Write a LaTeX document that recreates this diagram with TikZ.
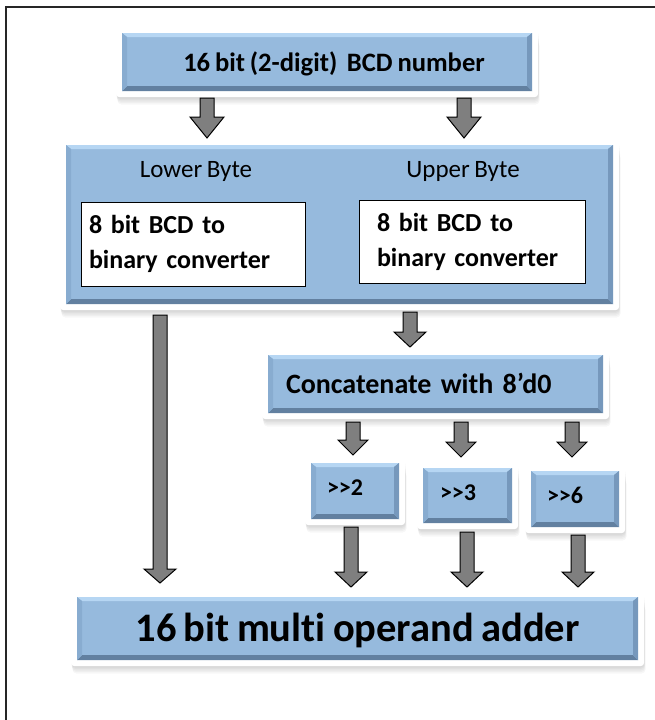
\documentclass[tikz,border=0pt]{standalone}
\usepackage{fontspec}
\setmainfont{Carlito}[Ligatures={NoCommon}, WordSpace=0.8]
\usetikzlibrary{calc,backgrounds}
\definecolor{face}{RGB}{150,186,221}
\definecolor{bevtop}{RGB}{182,214,243}
\definecolor{bevbot}{RGB}{98,128,160}
\definecolor{bevleft}{RGB}{136,172,208}
\definecolor{bevright}{RGB}{118,152,188}
\definecolor{arrowgray}{RGB}{127,127,127}
\tikzset{
  bevelbox/.style={fill=face, inner sep=0pt, outer sep=0pt, font=\bfseries,
    path picture={
      \coordinate (pnw) at (path picture bounding box.north west);
      \coordinate (pne) at (path picture bounding box.north east);
      \coordinate (psw) at (path picture bounding box.south west);
      \coordinate (pse) at (path picture bounding box.south east);
      \fill[bevtop] (pnw) -- (pne) -- ([shift={(-5pt,-4pt)}]pne) -- ([shift={(5pt,-4pt)}]pnw) -- cycle;
      \fill[bevbot] (psw) -- (pse) -- ([shift={(-5pt,5pt)}]pse) -- ([shift={(5pt,5pt)}]psw) -- cycle;
      \fill[bevleft] (pnw) -- (psw) -- ([shift={(5pt,5pt)}]psw) -- ([shift={(5pt,-4pt)}]pnw) -- cycle;
      \fill[bevright] (pne) -- (pse) -- ([shift={(-5pt,5pt)}]pse) -- ([shift={(-5pt,-4pt)}]pne) -- cycle;
    }},
  whitebox/.style={draw=black, line width=0.9pt, fill=white, inner sep=0pt, align=left,
    font=\bfseries\fontsize{26}{35}\selectfont},
  bytelabel/.style={anchor=base, inner sep=0pt, font=\fontsize{25}{30}\selectfont},
  blockarrow/.style={fill=arrowgray, draw=black, line width=1pt, line join=miter},
}
\newcommand\barrow[7]{%
  \draw[blockarrow] let \p1=(#2.south), \p2=(#4.north) in
    (#1pt-7pt,\y1-#3pt) -- (#1pt-7pt,\y2+#5pt+#6pt) -- (#1pt-#7pt,\y2+#5pt+#6pt) --
    (#1pt,\y2+#5pt) -- (#1pt+#7pt,\y2+#5pt+#6pt) -- (#1pt+7pt,\y2+#5pt+#6pt) --
    (#1pt+7pt,\y1-#3pt) -- cycle;}
\begin{document}
\begin{tikzpicture}[x=1pt,y=-1pt]
\useasboundingbox (0,0) rectangle (655,720);

% blue boxes
\node[bevelbox, minimum width=410pt, minimum height=58pt, text height=18pt, text depth=0pt,
  font=\bfseries\fontsize{26.6}{30}\selectfont] (top) at (327,62) {\kern14pt 16 bit (2-digit)\ \ BCD number};
\node[bevelbox, minimum width=547pt, minimum height=159pt] (mid) at (339.5,224.5) {};
\node[bevelbox, minimum width=335pt, minimum height=58pt, text width=299pt, align=left,
  text height=18pt, text depth=0pt, font=\bfseries\fontsize{28}{32}\selectfont] (cat) at (435.5,384) {Concatenate with 8’d0};
\node[bevelbox, minimum width=88pt, minimum height=56pt, text width=56pt, align=left,
  text height=15.5pt, text depth=6pt, font=\bfseries\fontsize{24}{28}\selectfont] (s2) at (355,491) {{>}{>}2};
\node[bevelbox, minimum width=89pt, minimum height=55pt, text width=55pt, align=left,
  text height=15.5pt, text depth=6pt, font=\bfseries\fontsize{24}{28}\selectfont] (s3) at (467.5,495.5) {{>}{>}3};
\node[bevelbox, minimum width=88pt, minimum height=56pt, text width=56pt, align=left,
  text height=15.5pt, text depth=6pt, font=\bfseries\fontsize{24}{28}\selectfont] (s6) at (575,499) {{>}{>}6};
\node[bevelbox, minimum width=561pt, minimum height=63pt, text height=25pt, text depth=0pt,
  font=\bfseries\fontsize{40.5}{44}\selectfont] (add) at (357.5,628.5) {16 bit multi operand adder};

% contents of the middle box
\node[bytelabel] (lowlab) at (196,177) {Lower Byte};
\node[bytelabel] (uplab) at (463,177) {Upper Byte};
\node[whitebox, minimum width=224pt, minimum height=84pt, text width=208pt] (lowconv) at (193,244) {8 bit BCD to\\binary converter};
\node[whitebox, minimum width=226pt, minimum height=83pt, text width=190pt] (upconv) at (472,241.5) {8 bit BCD to\\binary converter};

% page, outer frame, white frames with soft shadows
\begin{scope}[on background layer]
\fill[white] (0,0) rectangle (655,720);
\draw[line width=1.6pt, black!85] (6,740) -- (6,7) -- (680,7);
\foreach \n in {top,mid,cat,s2,s3,s6,add}{
  \foreach \k in {1,...,5}{
    \fill[black, opacity=0.03, rounded corners=4pt]
      ([shift={(-6pt+0.3*\k pt,-6pt-1.5*\k pt)}]\n.south west) rectangle
      ([shift={(6pt+0.3*\k pt,6pt-3*\k pt)}]\n.north east);
  }
  \fill[white, rounded corners=3pt] ([shift={(-6pt,-6pt)}]\n.south west) rectangle ([shift={(6pt,6pt)}]\n.north east);
}
\end{scope}

% block arrows: x, source, gap, target, gap, head length, head half width
\barrow{207}{top}{7}{mid}{7}{21}{17}
\barrow{464}{top}{7}{mid}{7}{21}{17}
\barrow{410}{mid}{8}{cat}{8}{15}{16}
\barrow{160}{mid}{11}{add}{14}{14}{16}
\barrow{353}{cat}{9}{s2}{8}{15}{15}
\barrow{461}{cat}{9}{s3}{11}{15}{15}
\barrow{572}{cat}{9}{s6}{14}{15}{15}
\barrow{351}{s2}{8}{add}{10}{15}{16}
\barrow{467}{s3}{9}{add}{10}{15}{16}
\barrow{578}{s6}{8}{add}{10}{15}{16}
\end{tikzpicture}
\end{document}
